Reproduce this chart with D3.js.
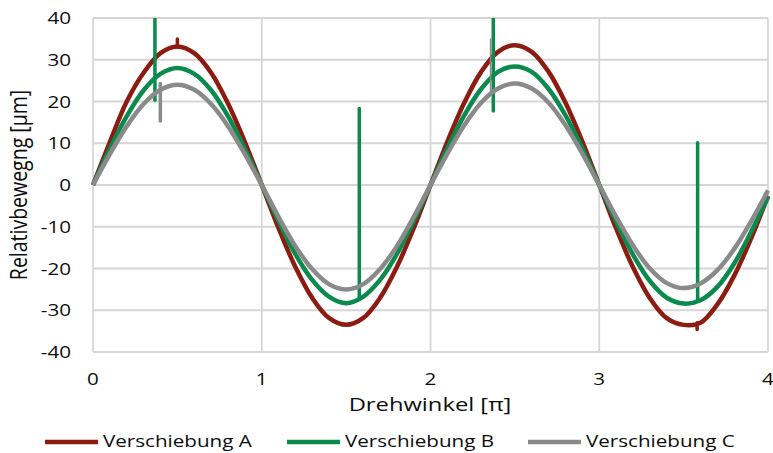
<!DOCTYPE html>
<html>
<head>
<meta charset="utf-8">
<script src="https://cdn.jsdelivr.net/npm/d3@7"></script>
<style>
  body { margin: 0; background: #fff; }
  text { font-family: "Open Sans", sans-serif; fill: #0d0d0d; }
</style>
</head>
<body>
<svg width="773" height="453"></svg>
<script>
// drehwinkel in pi
const hoeken = [0, 0.1, 0.2, 0.3, 0.4, 0.5, 0.6, 0.7, 0.8, 0.9,
  1, 1.1, 1.2, 1.3, 1.4, 1.5, 1.6, 1.7, 1.8, 1.9,
  2, 2.1, 2.2, 2.3, 2.4, 2.5, 2.6, 2.7, 2.8, 2.9,
  3, 3.1, 3.2, 3.3, 3.4, 3.5, 3.6, 3.7, 3.8, 3.9, 4]

const verschiebungA = [0, 10.3, 20.0, 26.9, 31.6, 33.2, 31.6, 26.9, 19.5, 10.3,
  0, -10.4, -19.7, -27.1, -31.9, -33.5, -31.9, -27.1, -19.7, -10.4,
  0, 10.4, 19.7, 27.1, 31.9, 33.5, 31.9, 27.1, 19.7, 10.4,
  0, -10.4, -19.7, -27.1, -31.9, -33.5, -33.0, -28.6, -21.7, -12.8, -2.6]

const verschiebungB = [0, 8.7, 16.5, 22.7, 26.6, 28.0, 26.6, 22.7, 16.5, 8.7,
  0, -8.7, -16.6, -22.8, -26.8, -28.3, -26.8, -22.8, -16.6, -8.7,
  0, 8.8, 16.7, 23.0, 27.1, 28.4, 27.1, 23.0, 16.7, 8.8,
  0, -8.8, -16.7, -23.0, -27.0, -28.4, -27.6, -24.4, -18.8, -11.2, -2.9]

const verschiebungC = [0, 7.4, 14.1, 19.4, 22.8, 24.0, 22.8, 19.4, 14.1, 7.4,
  0, -7.7, -14.7, -20.2, -23.8, -25.0, -23.8, -20.2, -14.7, -7.7,
  0, 7.5, 14.3, 19.7, 23.1, 24.3, 23.1, 19.7, 14.3, 7.5,
  0, -7.6, -14.5, -20.0, -23.5, -24.7, -23.6, -20.4, -15.3, -8.7, -1.3]

// korte pieken in de meting: [hoek, van, tot]
const piekenA = [[0.5, 33.0, 35.0], [3.58, -34.6, -33.0]]
const piekenB = [[0.367, 20.3, 45], [1.578, -27.3, 18.3], [2.372, 17.7, 45], [3.583, -27.5, 10.1]]
const piekenC = [[0.399, 15.3, 24.3], [2.356, 22.5, 35.0]]

const reeksNamen = ["Verschiebung A", "Verschiebung B", "Verschiebung C"]
const kleuren = ["#8c1b12", "#0b8a4e", "#8a8a8a"]

const xTicks = [0, 1, 2, 3, 4]
const yTicks = [-40, -30, -20, -10, 0, 10, 20, 30, 40]

const svg = d3.select("svg")
const rek = 1.25 // tekst is breed getrokken in het origineel

const xScale = d3.scaleLinear().domain([0, 4]).range([93, 768])
const yScale = d3.scaleLinear().domain([-40, 40]).range([352, 18])

svg.append("clipPath").attr("id", "plot")
  .append("rect")
  .attr("x", 90).attr("y", 18)
  .attr("width", 683).attr("height", 340)

// rasterlijnen
svg.append("g").selectAll("line.v")
  .data(xTicks).enter().append("line")
  .attr("x1", d => xScale(d)).attr("x2", d => xScale(d))
  .attr("y1", yScale(40)).attr("y2", yScale(-40))
  .attr("stroke", "#d6d6d6").attr("stroke-width", 1.8)

svg.append("g").selectAll("line.h")
  .data(yTicks).enter().append("line")
  .attr("x1", xScale(0)).attr("x2", xScale(4))
  .attr("y1", d => yScale(d)).attr("y2", d => yScale(d))
  .attr("stroke", "#d6d6d6").attr("stroke-width", 1.8)

// as labels
svg.append("g").selectAll("text")
  .data(xTicks).enter().append("text")
  .attr("text-anchor", "middle")
  .attr("font-size", 16.5)
  .attr("transform", d => `translate(${xScale(d)},385) scale(${rek},1)`)
  .text(d => d)

svg.append("g").selectAll("text")
  .data(yTicks).enter().append("text")
  .attr("text-anchor", "end")
  .attr("font-size", 16.5)
  .attr("transform", d => `translate(71,${yScale(d) + 6}) scale(${rek},1)`)
  .text(d => d)

svg.append("text")
  .attr("text-anchor", "middle")
  .attr("font-size", 19)
  .attr("transform", `translate(430,411) scale(${rek},1)`)
  .text("Drehwinkel [π]")

svg.append("text")
  .attr("text-anchor", "middle")
  .attr("font-size", 19.5)
  .attr("transform", `translate(27,185) scale(${rek},1) rotate(-90)`)
  .text("Relativbewegng [µm]")

// lijnen
const reeksen = [verschiebungA, verschiebungB, verschiebungC]
const pieken = [piekenA, piekenB, piekenC]

const lijn = d3.line()
  .x(d => xScale(d[0]))
  .y(d => yScale(d[1]))
  .curve(d3.curveCatmullRom)

const g = svg.append("g").attr("clip-path", "url(#plot)")

reeksen.forEach((waarden, i) => {
  g.append("path")
    .datum(hoeken.map((h, j) => [h, waarden[j]]))
    .attr("d", lijn)
    .attr("fill", "none")
    .attr("stroke", kleuren[i])
    .attr("stroke-width", 4.5)
    .attr("stroke-linejoin", "round")

  g.selectAll("line.piek" + i)
    .data(pieken[i]).enter().append("line")
    .attr("x1", d => xScale(d[0])).attr("x2", d => xScale(d[0]))
    .attr("y1", d => yScale(d[1])).attr("y2", d => yScale(d[2]))
    .attr("stroke", kleuren[i])
    .attr("stroke-width", (d, j) => (i == 2 && j == 1) ? 1.5 : 3.5)
    .attr("stroke-linecap", "round")
})

// legenda
const legendaX = [45, 287, 528]
const legenda = svg.append("g").selectAll("g")
  .data(reeksNamen).enter().append("g")

legenda.append("line")
  .attr("x1", (d, i) => legendaX[i]).attr("x2", (d, i) => legendaX[i] + 53)
  .attr("y1", 442).attr("y2", 442)
  .attr("stroke", (d, i) => kleuren[i])
  .attr("stroke-width", 4.5)

legenda.append("text")
  .attr("font-size", 16.5)
  .attr("transform", (d, i) => `translate(${legendaX[i] + 58},447) scale(${rek},1)`)
  .text(d => d)
</script>
</body>
</html>
